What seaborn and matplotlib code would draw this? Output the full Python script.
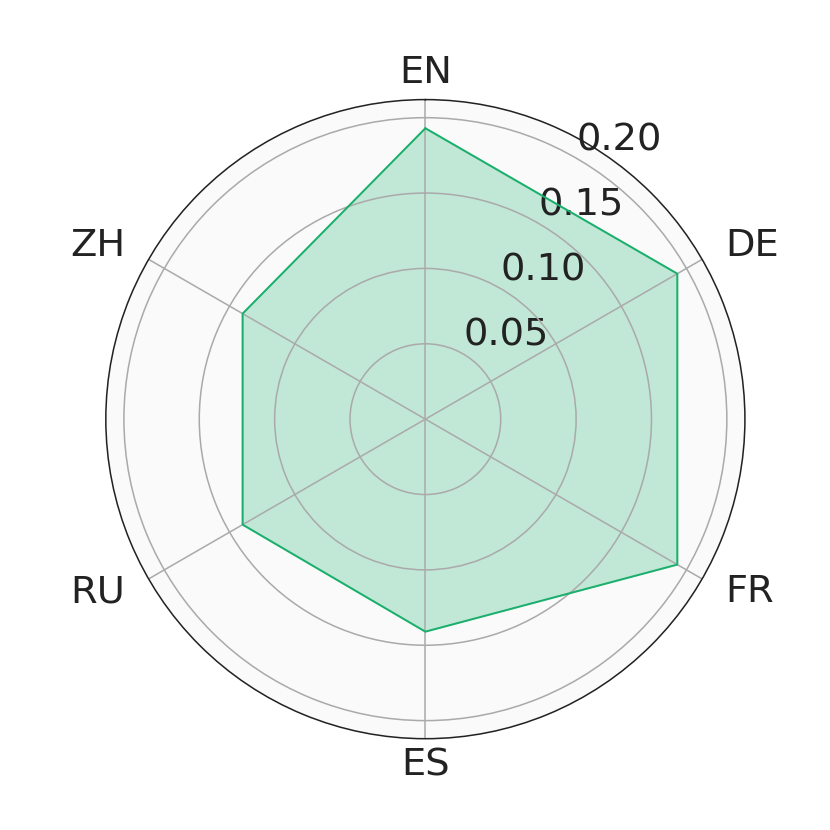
import numpy as np
import matplotlib.pyplot as plt
import seaborn as sns

# Data
languages = ['EN', 'DE', 'FR', 'ES', 'RU', 'ZH']
scores = [0.193, 0.193, 0.193, 0.141, 0.140, 0.140]
ring_ticks = [0.05, 0.10, 0.15, 0.20]

sns.set_style('white')
plt.rcParams['font.family'] = ['DejaVu Sans']
plt.rcParams['font.size'] = 20
plt.rcParams['axes.linewidth'] = 0.8

angles = np.linspace(0, 2 * np.pi, len(languages), endpoint=False).tolist()
angles_closed = angles + angles[:1]
scores_closed = scores + scores[:1]

fig = plt.figure(figsize=(6, 6), dpi=830 / 6)
ax = fig.add_subplot(111, polar=True)
ax.set_facecolor('#FAFAFA')
ax.set_theta_offset(np.pi / 2)
ax.set_theta_direction(-1)
ax.set_axisbelow('line')

color = '#1aaf6c'
sns.lineplot(x=angles_closed, y=scores_closed, sort=False, estimator=None,
             ax=ax, color=color, linewidth=1)
ax.fill(angles_closed, scores_closed, color=color, alpha=0.25, zorder=1)

ax.set_xticks(angles)
ax.set_xticklabels(languages, fontsize=20)
for label, angle in zip(ax.get_xticklabels(), angles):
    if angle in (0, np.pi):
        label.set_horizontalalignment('center')
    elif 0 < angle < np.pi:
        label.set_horizontalalignment('left')
    else:
        label.set_horizontalalignment('right')

ax.set_yticks(ring_ticks)
ax.set_yticklabels([f'{t:.2f}' for t in ring_ticks], fontsize=20)
ax.set_rlabel_position(180 / len(languages))
ax.set_ylim(0, 0.212)

ax.tick_params(colors='#222222')
ax.grid(True, color='#AAAAAA', linewidth=0.8)
ax.spines['polar'].set_color('#222222')

plt.savefig('out.png', dpi=830 / 6)
